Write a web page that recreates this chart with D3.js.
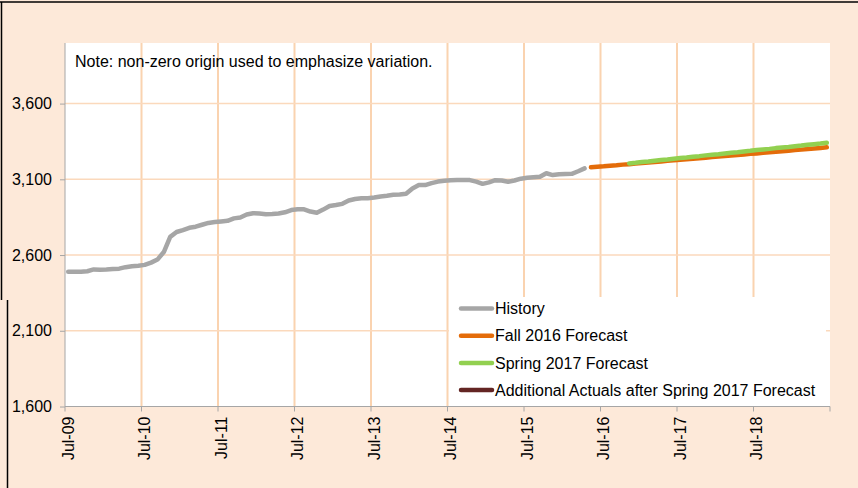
<!DOCTYPE html>
<html>
<head>
<meta charset="utf-8">
<script src="https://cdn.jsdelivr.net/npm/d3@7"></script>
<style>
body { margin: 0; background: #ffffff; }
text { font-family: Arial, "Liberation Sans", sans-serif; fill: #000000; }
</style>
</head>
<body>
<svg id="chart" width="858" height="488"></svg>
<script>
// month index 0 = Jul-09, one point per month
var xLabels = ["Jul-09", "Jul-10", "Jul-11", "Jul-12", "Jul-13", "Jul-14", "Jul-15", "Jul-16", "Jul-17", "Jul-18"];
var yTicks = [1600, 2100, 2600, 3100, 3600];

var historyStart = 0;
var historyValues = [
    2490, 2490, 2489, 2493, 2505, 2503, 2504, 2508, 2510, 2520, 2526, 2530,
    2535, 2550, 2570, 2620, 2720, 2752, 2765, 2780, 2787, 2800, 2812, 2818,
    2822, 2826, 2842, 2848, 2868, 2876, 2875, 2870, 2871, 2874, 2882, 2897,
    2903, 2902, 2887, 2879, 2900, 2924, 2930, 2938, 2960, 2970, 2975, 2975,
    2980, 2987, 2992, 2998, 3000, 3005, 3040, 3062, 3062, 3075, 3085, 3090,
    3094, 3096, 3095, 3095, 3085, 3070, 3080, 3094, 3092, 3084, 3092, 3104,
    3110, 3114, 3117, 3140, 3128, 3133, 3135, 3136, 3153, 3172
];

var fallStart = 82;
var fallValues = [
    3179, 3183, 3186, 3190, 3193, 3197, 3200, 3204, 3207, 3211, 3215, 3218,
    3222, 3225, 3229, 3232, 3236, 3239, 3243, 3247, 3250, 3254, 3257, 3261,
    3264, 3268, 3271, 3275, 3279, 3282, 3286, 3289, 3293, 3296, 3300, 3304,
    3307, 3311
];

var springStart = 88;
var springValues = [
    3205, 3209, 3214, 3218, 3223, 3227, 3231, 3236, 3240, 3244, 3249, 3253,
    3258, 3262, 3266, 3271, 3275, 3279, 3284, 3288, 3293, 3297, 3301, 3306,
    3310, 3314, 3319, 3323, 3328, 3332, 3336, 3341
];

var actualsStart = 88;
var actualsValues = [];

var seriesNames = ["History", "Fall 2016 Forecast", "Spring 2017 Forecast", "Additional Actuals after Spring 2017 Forecast"];
var seriesColors = ["#a6a6a6", "#e46c0a", "#92d050", "#632523"];

var svg = d3.select("#chart");
var plotLeft = 65, plotRight = 830, plotTop = 43, plotBottom = 406.5;
var months = 120;

var x = d3.scaleLinear().domain([0, months]).range([plotLeft, plotRight]);
var y = d3.scaleLinear().domain([1600, 4000]).range([plotBottom, plotTop]);

// background and outer frame
svg.append("rect").attr("width", 858).attr("height", 488).attr("fill", "#fde9d9");
svg.append("line").attr("x1", 0).attr("x2", 858).attr("y1", 2).attr("y2", 2)
    .attr("stroke", "#000").attr("stroke-width", 1.5);
svg.append("line").attr("x1", 1.5).attr("x2", 1.5).attr("y1", 2).attr("y2", 300)
    .attr("stroke", "#000").attr("stroke-width", 1.5);
svg.append("line").attr("x1", 7.5).attr("x2", 7.5).attr("y1", 300).attr("y2", 488)
    .attr("stroke", "#000").attr("stroke-width", 1.5);

svg.append("rect").attr("x", plotLeft).attr("y", plotTop)
    .attr("width", plotRight - plotLeft).attr("height", plotBottom - plotTop).attr("fill", "#ffffff");

// gridlines
var yearIdx = d3.range(0, months + 1, 12);
svg.append("g").selectAll("line").data(yearIdx.slice(1, -1)).enter().append("line")
    .attr("x1", function(d) { return x(d); }).attr("x2", function(d) { return x(d); })
    .attr("y1", plotTop).attr("y2", plotBottom)
    .attr("stroke", "#fad3b0").attr("stroke-width", 2);
svg.append("g").selectAll("line").data(yTicks.slice(1)).enter().append("line")
    .attr("x1", plotLeft).attr("x2", plotRight)
    .attr("y1", function(d) { return y(d); }).attr("y2", function(d) { return y(d); })
    .attr("stroke", "#fbd9bc").attr("stroke-width", 1.5);

// axes
var yAxis = svg.append("g").attr("transform", "translate(" + plotLeft + ",0)")
    .call(d3.axisLeft(y).tickValues(yTicks).tickFormat(d3.format(",")).tickSize(5).tickSizeOuter(0).tickPadding(8));
yAxis.select(".domain").remove();
yAxis.append("line").attr("x1", 0).attr("x2", 0).attr("y1", plotTop).attr("y2", plotBottom).attr("stroke", "#a6a6a6");
yAxis.selectAll(".tick line").attr("stroke", "#a6a6a6");
yAxis.selectAll(".tick text").style("font-size", "16px").attr("fill", "#000");

var xAxis = svg.append("g").attr("transform", "translate(0," + plotBottom + ")");
xAxis.append("line").attr("x1", plotLeft).attr("x2", plotRight).attr("stroke", "#a6a6a6");
xAxis.selectAll(".tk").data(yearIdx).enter().append("line")
    .attr("x1", function(d) { return x(d); }).attr("x2", function(d) { return x(d); })
    .attr("y1", 0).attr("y2", 5).attr("stroke", "#a6a6a6");
xAxis.selectAll(".lb").data(xLabels).enter().append("text")
    .attr("transform", function(d, i) { return "translate(" + x(i * 12 + 0.5) + ",10) rotate(-90)"; })
    .attr("text-anchor", "end").attr("dy", "0.35em")
    .style("font-size", "16px")
    .text(function(d) { return d; });

// series
var line = d3.line()
    .x(function(d) { return x(d.i + 0.5); })
    .y(function(d) { return y(d.v); });

function toPoints(start, values) {
    return values.map(function(v, j) { return { i: start + j, v: v }; });
}

var series = [
    toPoints(historyStart, historyValues),
    toPoints(fallStart, fallValues),
    toPoints(springStart, springValues),
    toPoints(actualsStart, actualsValues)
];

series.forEach(function(pts, s) {
    if (pts.length == 0) return;
    svg.append("path").datum(pts)
        .attr("d", line)
        .attr("fill", "none")
        .attr("stroke", seriesColors[s])
        .attr("stroke-width", 4.5)
        .attr("stroke-linecap", "round")
        .attr("stroke-linejoin", "round");
});

// note
svg.append("text").attr("x", 75).attr("y", 67).style("font-size", "16px")
    .text("Note: non-zero origin used to emphasize variation.");

// legend
var legend = svg.append("g");
legend.append("rect").attr("x", 449).attr("y", 297).attr("width", 377).attr("height", plotBottom - 297 - 0.5)
    .attr("fill", "#ffffff");
seriesNames.forEach(function(name, s) {
    var ly = 308.5 + s * 27.2;
    legend.append("line").attr("x1", 461).attr("x2", 492).attr("y1", ly).attr("y2", ly)
        .attr("stroke", seriesColors[s]).attr("stroke-width", 4.5).attr("stroke-linecap", "round");
    legend.append("text").attr("x", 495).attr("y", ly).attr("dy", "0.35em")
        .style("font-size", "16px").text(name);
});
</script>
</body>
</html>
